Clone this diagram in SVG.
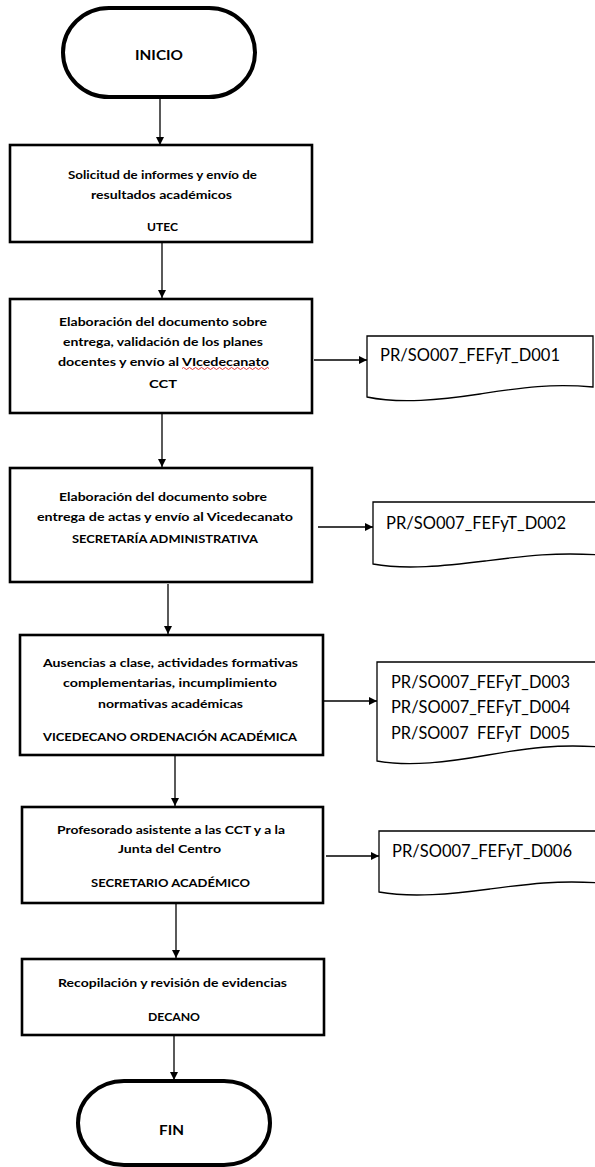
<svg xmlns="http://www.w3.org/2000/svg" width="595" height="1167" viewBox="0 0 595 1167">
<style>
.box{fill:#fff;stroke:#000;stroke-width:2.6}
.term{fill:#fff;stroke:#000;stroke-width:4}
.doc{fill:#fff;stroke:#000;stroke-width:1.3}
.t{font-family:Lato,"Liberation Sans",sans-serif;font-weight:bold;font-size:11.8px;fill:#000}
.tt{font-family:Lato,"Liberation Sans",sans-serif;font-weight:bold;font-size:14px;fill:#000}
.d{font-family:Lato,"Liberation Sans",sans-serif;font-size:16.5px;fill:#000}
.c{fill:none;stroke:#000;stroke-width:1.3}
</style>
<defs>
<marker id="ah" viewBox="0 0 10 10" refX="10" refY="5" markerWidth="8" markerHeight="8" markerUnits="userSpaceOnUse" orient="auto">
<path d="M0,0 L10,5 L0,10 Z" fill="#000"/>
</marker>
</defs>
<rect width="595" height="1167" fill="#fff"/>
<g id="connectors">
<line class="c" x1="160" y1="97" x2="160" y2="145" marker-end="url(#ah)"/>
<line class="c" x1="162" y1="242" x2="162" y2="298" marker-end="url(#ah)"/>
<line class="c" x1="162" y1="413" x2="162" y2="467" marker-end="url(#ah)"/>
<line class="c" x1="168" y1="584" x2="168" y2="634" marker-end="url(#ah)"/>
<line class="c" x1="175" y1="755" x2="175" y2="806" marker-end="url(#ah)"/>
<line class="c" x1="176" y1="903" x2="176" y2="958" marker-end="url(#ah)"/>
<line class="c" x1="174" y1="1035" x2="174" y2="1080" marker-end="url(#ah)"/>
<line class="c" x1="314" y1="360" x2="367" y2="360" marker-end="url(#ah)"/>
<line class="c" x1="318" y1="527" x2="373" y2="527" marker-end="url(#ah)"/>
<line class="c" x1="324" y1="701" x2="377" y2="701" marker-end="url(#ah)"/>
<line class="c" x1="326" y1="856" x2="379" y2="856" marker-end="url(#ah)"/>
</g>
<g id="inicio">
<rect class="term" x="63" y="8" width="192" height="89" rx="46" ry="44.5"/>
<text class="tt" x="135" y="60" textLength="48" lengthAdjust="spacingAndGlyphs">INICIO</text>
</g>
<g id="utec">
<rect class="box" x="10" y="145" width="302" height="97"/>
<text class="t" x="68" y="179" textLength="189" lengthAdjust="spacingAndGlyphs">Solicitud de informes y envío de</text>
<text class="t" x="91" y="199" textLength="141" lengthAdjust="spacingAndGlyphs">resultados académicos</text>
<text class="t" x="147" y="231" textLength="31" lengthAdjust="spacingAndGlyphs">UTEC</text>
</g>
<g id="cct">
<rect class="box" x="10" y="299" width="302" height="114"/>
<text class="t" x="59" y="326" textLength="208" lengthAdjust="spacingAndGlyphs">Elaboración del documento sobre</text>
<text class="t" x="63" y="346" textLength="200" lengthAdjust="spacingAndGlyphs">entrega, validación de los planes</text>
<text class="t" x="58" y="366" textLength="211" lengthAdjust="spacingAndGlyphs">docentes y envío al VIcedecanato</text>
<path d="M182,368.5 q1.5,-2 3,0 t3,0 t3,0 t3,0 t3,0 t3,0 t3,0 t3,0 t3,0 t3,0 t3,0 t3,0 t3,0 t3,0 t3,0 t3,0 t3,0 t3,0 t3,0 t3,0 t3,0 t3,0 t3,0 t3,0 t3,0 t3,0 t3,0 t3,0 t3,0" fill="none" stroke="#e02020" stroke-width="0.9"/>
<text class="t" x="149" y="388" textLength="28" lengthAdjust="spacingAndGlyphs">CCT</text>
</g>
<g id="secretaria-administrativa">
<rect class="box" x="10" y="468" width="302" height="114"/>
<text class="t" x="59" y="501" textLength="208" lengthAdjust="spacingAndGlyphs">Elaboración del documento sobre</text>
<text class="t" x="37" y="521" textLength="256" lengthAdjust="spacingAndGlyphs">entrega de actas y envío al Vicedecanato</text>
<text class="t" x="72" y="543" textLength="186" lengthAdjust="spacingAndGlyphs">SECRETARÍA ADMINISTRATIVA</text>
</g>
<g id="vicedecano">
<rect class="box" x="20" y="635" width="303" height="120"/>
<text class="t" x="43" y="667" textLength="255" lengthAdjust="spacingAndGlyphs">Ausencias a clase, actividades formativas</text>
<text class="t" x="63" y="687" textLength="214" lengthAdjust="spacingAndGlyphs">complementarias, incumplimiento</text>
<text class="t" x="98" y="708" textLength="145" lengthAdjust="spacingAndGlyphs">normativas académicas</text>
<text class="t" x="43" y="741" textLength="254" lengthAdjust="spacingAndGlyphs">VICEDECANO ORDENACIÓN ACADÉMICA</text>
</g>
<g id="secretario-academico">
<rect class="box" x="22" y="807" width="301" height="96"/>
<text class="t" x="57" y="834" textLength="228" lengthAdjust="spacingAndGlyphs">Profesorado asistente a las CCT y a la</text>
<text class="t" x="118" y="853" textLength="103" lengthAdjust="spacingAndGlyphs">Junta del Centro</text>
<text class="t" x="91" y="887" textLength="159" lengthAdjust="spacingAndGlyphs">SECRETARIO ACADÉMICO</text>
</g>
<g id="decano">
<rect class="box" x="22" y="959" width="302" height="76"/>
<text class="t" x="58" y="987" textLength="229" lengthAdjust="spacingAndGlyphs">Recopilación y revisión de evidencias</text>
<text class="t" x="148" y="1021" textLength="52" lengthAdjust="spacingAndGlyphs">DECANO</text>
</g>
<g id="fin">
<rect class="term" x="78" y="1081" width="192" height="84" rx="46" ry="42"/>
<text class="tt" x="159" y="1135" textLength="25" lengthAdjust="spacingAndGlyphs">FIN</text>
</g>
<g id="doc-d001">
<path class="doc" d="M367,336 H593 V387 C550,383 520,388 480,394 S400,404 367,397 Z"/>
<text class="d" x="380" y="361" textLength="180" lengthAdjust="spacingAndGlyphs">PR/SO007_FEFyT_D001</text>
</g>
<g id="doc-d002">
<path class="doc" d="M373,502 H600 V555 C555,552 525,556 485,561 S405,570 373,564 Z"/>
<text class="d" x="386" y="529" textLength="180" lengthAdjust="spacingAndGlyphs">PR/SO007_FEFyT_D002</text>
</g>
<g id="doc-d003-d005">
<path class="doc" d="M377,662 H600 V747 C558,744 528,748 488,755 S410,767 377,761 Z"/>
<text class="d" x="391" y="688" textLength="179" lengthAdjust="spacingAndGlyphs">PR/SO007_FEFyT_D003</text>
<text class="d" x="391" y="713" textLength="179" lengthAdjust="spacingAndGlyphs">PR/SO007_FEFyT_D004</text>
<text class="d" x="391" y="739" textLength="179" lengthAdjust="spacingAndGlyphs" xml:space="preserve">PR/SO007  FEFyT  D005</text>
</g>
<g id="doc-d006">
<path class="doc" d="M379,831 H600 V883 C558,880 528,884 490,889 S412,898 379,892 Z"/>
<text class="d" x="392" y="857" textLength="180" lengthAdjust="spacingAndGlyphs">PR/SO007_FEFyT_D006</text>
</g>
</svg>
